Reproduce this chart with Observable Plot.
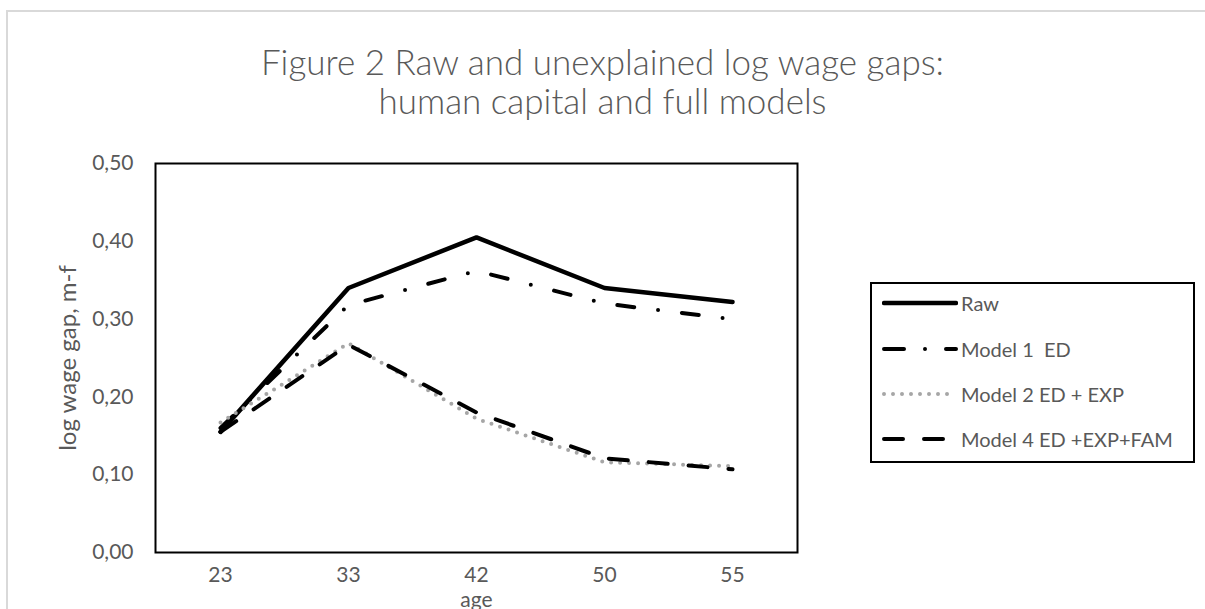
<!DOCTYPE html>
<html><head><meta charset="utf-8">
<script src="https://cdn.jsdelivr.net/npm/d3@7"></script>
<script src="https://cdn.jsdelivr.net/npm/@observablehq/plot@0.6"></script>
<style>
body{margin:0;background:#fff;overflow:hidden;width:1205px;height:609px;position:relative;font-family:Lato, "Open Sans", sans-serif;}
#outer{position:absolute;left:6px;top:10px;width:1300px;height:700px;border:2px solid #d9d9d9;box-sizing:border-box;}
#title{position:absolute;left:0;top:42px;width:1205px;text-align:center;color:#595959;font-size:35px;line-height:39px;font-weight:300;}
#chart{position:absolute;left:0;top:130px;}
#legend{position:absolute;left:870px;top:282px;width:325px;height:181px;border:2px solid #000;box-sizing:border-box;background:#fff;}
.row{position:absolute;left:0;height:30px;display:flex;align-items:center;}
.row svg{margin-left:10px;}
.row span{margin-left:3px;color:#595959;font-size:20px;white-space:pre;}
</style>
</head><body>
<div id="outer"></div>
<div id="title">Figure 2 Raw and unexplained log wage gaps:<br>human capital and full models</div>
<div id="chart"></div>
<div id="legend"></div>
<script>
const ages = ["23", "33", "42", "50", "55"];
const seriesNames = ["Raw", "Model 1  ED", "Model 2 ED + EXP", "Model 4 ED +EXP+FAM"];
const raw    = [0.155, 0.340, 0.405, 0.340, 0.322];
const model1 = [0.160, 0.318, 0.362, 0.320, 0.300];
const model2 = [0.167, 0.269, 0.172, 0.116, 0.111];
const model4 = [0.155, 0.267, 0.180, 0.121, 0.107];
const yTicks = [0, 0.1, 0.2, 0.3, 0.4, 0.5];

const seriesValues = [raw, model1, model2, model4];
const styles = [
  {stroke: "#000", strokeWidth: 4.5, dash: null, legendDash: null},
  {stroke: "#000", strokeWidth: 4, dash: "17,24,0,24", legendDash: "20,21,0,21"},
  {stroke: "#a6a6a6", strokeWidth: 4, dash: "0,9", legendDash: "0,9"},
  {stroke: "#000", strokeWidth: 4, dash: "19,21", legendDash: "19,21"}
];

const data = seriesNames.flatMap((name, k) =>
  ages.map((a, i) => ({age: a, value: seriesValues[k][i], name})));

const lineMarks = seriesNames.map((name, k) =>
  Plot.line(data.filter(d => d.name === name), {
    x: "age", y: "value",
    stroke: styles[k].stroke, strokeWidth: styles[k].strokeWidth,
    strokeDasharray: styles[k].dash || undefined,
    strokeLinecap: "round", strokeLinejoin: "round"
  }));

const chart = Plot.plot({
  width: 1205, height: 479,
  marginLeft: 155, marginRight: 408, marginTop: 33, marginBottom: 57,
  x: {type: "point", domain: ages, padding: 0.5},
  y: {domain: [0, 0.5]},
  style: {fontFamily: "Lato, 'Open Sans', sans-serif", fontSize: "21px", color: "#595959", background: "transparent"},
  marks: [
    Plot.axisY({ticks: yTicks, tickSize: 0, tickPadding: 22, fontSize: 21, tickFormat: d => d.toFixed(2).replace(".", ","), label: null}),
    Plot.axisX({tickSize: 0, tickPadding: 15, fontSize: 21, label: null}),
    Plot.text(["log wage gap, m-f"], {frameAnchor: "left", textAnchor: "middle", dx: -87, rotate: -90, fill: "#595959", fontSize: 24}),
    Plot.text(["age"], {frameAnchor: "bottom", dy: 54, fill: "#595959", fontSize: 21}),
    ...lineMarks,
    Plot.frame({stroke: "#000", strokeWidth: 2})
  ]
});
document.getElementById("chart").appendChild(chart);

const legend = document.getElementById("legend");
const rowCenters = [21, 67, 112, 157];
seriesNames.forEach((name, k) => {
  const row = document.createElement("div");
  row.className = "row";
  row.style.top = (rowCenters[k] - 15 - 2) + "px";
  const ns = "http://www.w3.org/2000/svg";
  const svg = document.createElementNS(ns, "svg");
  svg.setAttribute("width", 76); svg.setAttribute("height", 10);
  const ln = document.createElementNS(ns, "line");
  ln.setAttribute("x1", 2); ln.setAttribute("x2", 74);
  ln.setAttribute("y1", 5); ln.setAttribute("y2", 5);
  ln.setAttribute("stroke", styles[k].stroke);
  ln.setAttribute("stroke-width", styles[k].strokeWidth);
  ln.setAttribute("stroke-linecap", "round");
  if (styles[k].legendDash) ln.setAttribute("stroke-dasharray", styles[k].legendDash);
  svg.appendChild(ln);
  const sp = document.createElement("span");
  sp.textContent = name;
  row.appendChild(svg); row.appendChild(sp);
  legend.appendChild(row);
});
</script>
</body></html>
